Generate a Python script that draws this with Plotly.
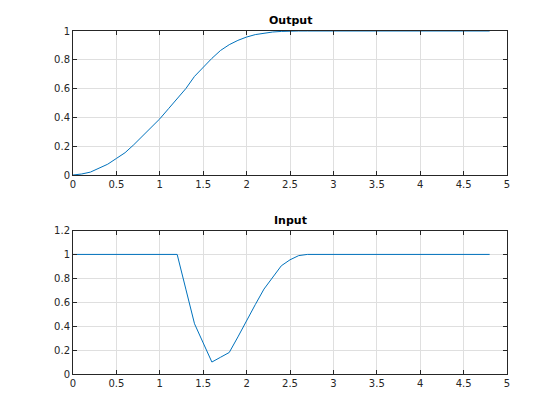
import plotly.graph_objects as go

time = [round(i * 0.1, 1) for i in range(49)]  # 0 .. 4.8

output_vals = [0.0, 0.007, 0.02, 0.045, 0.075, 0.115, 0.155, 0.21, 0.27, 0.33,
               0.39, 0.46, 0.53, 0.60, 0.685, 0.75, 0.81, 0.865, 0.905, 0.935,
               0.958, 0.975, 0.986, 0.993, 0.997, 1.0] + [1.0] * 23

input_vals = [1.0] * 13 + [0.71, 0.42, 0.26, 0.10, 0.14, 0.18, 0.31, 0.45, 0.58,
                           0.71, 0.81, 0.905, 0.955, 0.99, 1.0] + [1.0] * 21

titles = ["Output", "Input"]
x_ticks = [0, 0.5, 1, 1.5, 2, 2.5, 3, 3.5, 4, 4.5, 5]
y_ticks_top = [0, 0.2, 0.4, 0.6, 0.8, 1]
y_ticks_bottom = [0, 0.2, 0.4, 0.6, 0.8, 1, 1.2]

line_color = "#0072BD"
axis_color = "#262626"
grid_color = "#dfdfdf"
font_family = "DejaVu Sans, Liberation Sans, sans-serif"

fig = go.Figure()
fig.add_trace(go.Scatter(x=time, y=output_vals, mode="lines",
                         line=dict(color=line_color, width=1), xaxis="x", yaxis="y",
                         showlegend=False, hoverinfo="skip"))
fig.add_trace(go.Scatter(x=time, y=input_vals, mode="lines",
                         line=dict(color=line_color, width=1), xaxis="x2", yaxis="y2",
                         showlegend=False, hoverinfo="skip"))

# page body has an 8px margin, so the figure is offset by 8px
off = 8
W, H = 552, 412
ml, mr, mt, mb = 73 - off, 53, 31 - off, 46
ph = H - mt - mb
top_bottom = 1 - (175 - 31) / ph
bot_top = (374 - 230.5) / ph

common_axis = dict(showline=True, linecolor=axis_color, linewidth=1, mirror="allticks",
                   ticks="inside", ticklen=4, tickcolor=axis_color, tickwidth=1,
                   showgrid=True, gridcolor=grid_color, gridwidth=1, zeroline=False,
                   tickfont=dict(family=font_family, size=10, color=axis_color))

fig.update_layout(
    width=W, height=H,
    margin=dict(l=ml, r=mr, t=mt, b=mb),
    paper_bgcolor="white", plot_bgcolor="white",
    xaxis=dict(domain=[0, 1], range=[0, 5], tickvals=x_ticks, anchor="y", **common_axis),
    yaxis=dict(domain=[top_bottom, 1], range=[0, 1], tickvals=y_ticks_top, anchor="x", **common_axis),
    xaxis2=dict(domain=[0, 1], range=[0, 5], tickvals=x_ticks, anchor="y2", **common_axis),
    yaxis2=dict(domain=[0, bot_top], range=[0, 1.2], tickvals=y_ticks_bottom, anchor="x2", **common_axis),
    annotations=[
        dict(text="<b>" + titles[0] + "</b>", x=0.5, y=1, xref="paper", yref="paper",
             xanchor="center", yanchor="bottom", yshift=2, showarrow=False,
             font=dict(family=font_family, size=11, color="black")),
        dict(text="<b>" + titles[1] + "</b>", x=0.5, y=bot_top, xref="paper", yref="paper",
             xanchor="center", yanchor="bottom", yshift=2, showarrow=False,
             font=dict(family=font_family, size=11, color="black")),
    ],
)

fig.write_html("out.html")
